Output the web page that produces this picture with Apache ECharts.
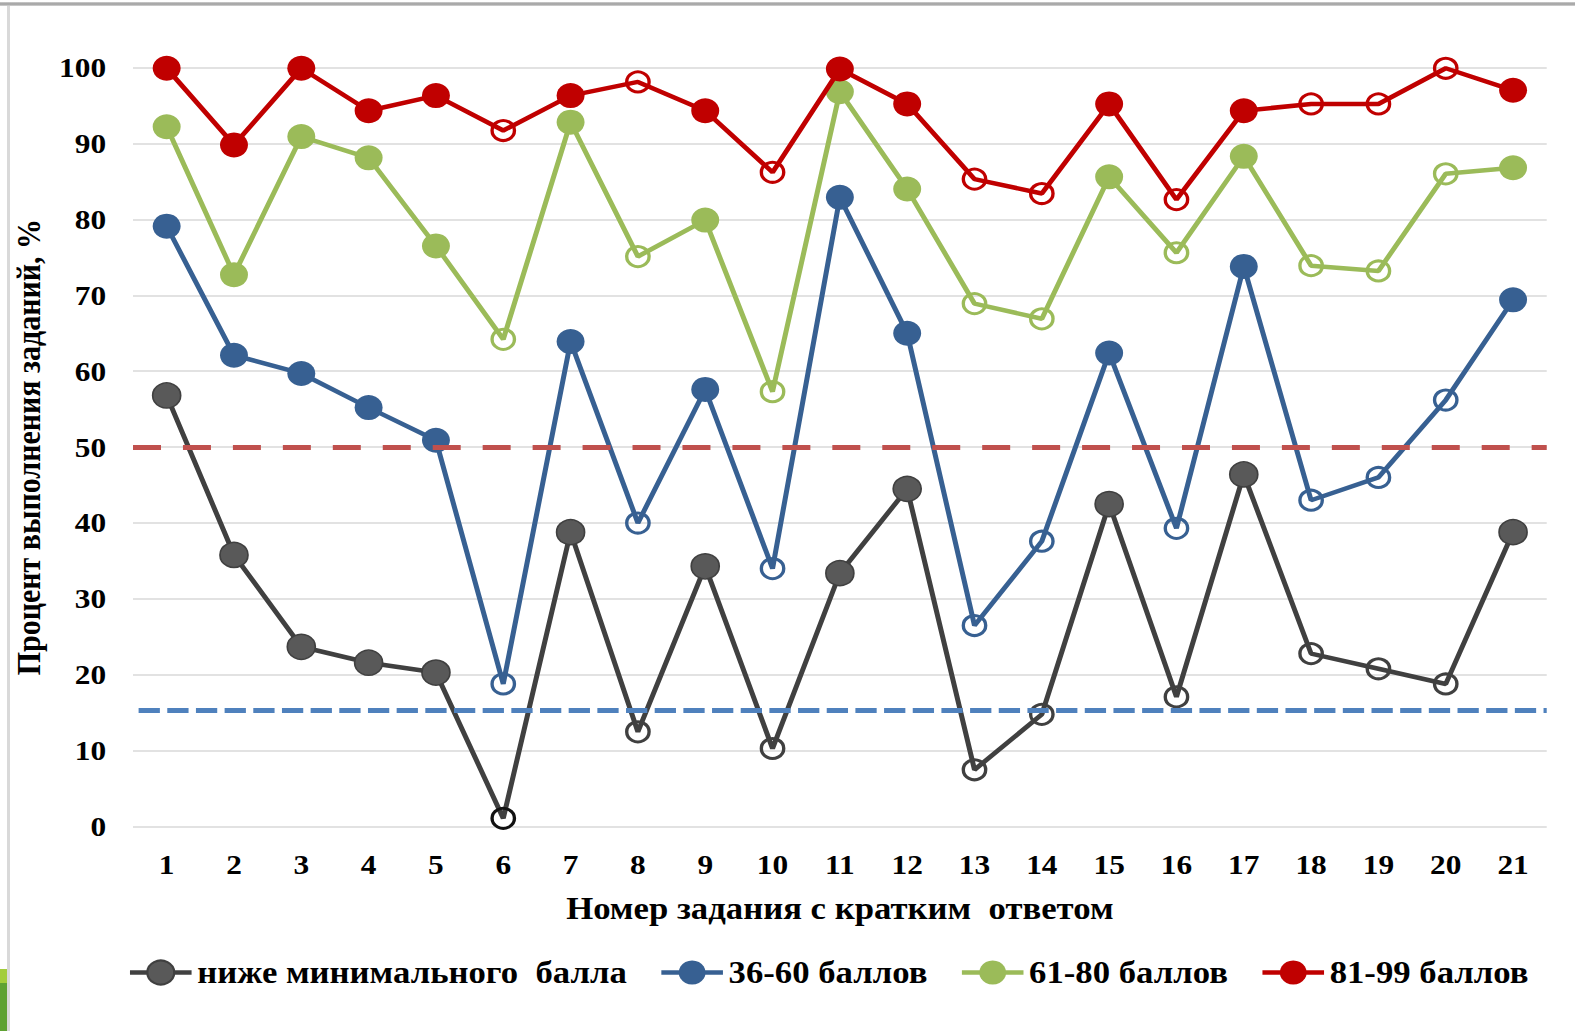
<!DOCTYPE html>
<html>
<head>
<meta charset="utf-8">
<script src="https://cdn.jsdelivr.net/npm/echarts@6/dist/echarts.min.js"></script>
<style>
  html, body { margin: 0; padding: 0; background: #fff; overflow: hidden; }
  #wrap { position: relative; width: 1575px; height: 1031px; overflow: hidden; background: #fff; }
  /* chart is laid out narrower and widened horizontally, giving the wide lettering and oval markers */
  #chart { position: absolute; left: 0; top: 0; width: 1406.25px; height: 1031px;
           transform: scaleX(1.12); transform-origin: 0 0; }
  .frame-top { position: absolute; left: 0; top: 2px; width: 1575px; height: 4px;
               background: linear-gradient(#cfcfcf, #9c9c9c, #d6d6d6); }
  .frame-left { position: absolute; left: 7px; top: 6px; width: 3px; height: 1025px; background: #d9d9d9; }
  .tab-light { position: absolute; left: 0; top: 969px; width: 7px; height: 14px; background: #a3cd3b; }
  .tab-dark { position: absolute; left: 0; top: 983px; width: 7px; height: 48px; background: #5fa233; }
</style>
</head>
<body>
<div id="wrap">
  <div id="chart"></div>
  <div class="frame-top"></div>
  <div class="frame-left"></div>
  <div class="tab-light"></div>
  <div class="tab-dark"></div>
</div>
<script>
// Task numbers (short-answer tasks)
const tasks = ['1','2','3','4','5','6','7','8','9','10','11','12','13','14','15','16','17','18','19','20','21'];

// Percentage of completion by score group
const belowMin   = [56.8, 35.8, 23.7, 21.6, 20.3, 1.1, 38.8, 12.5, 34.3, 10.3, 33.4, 44.5, 7.5, 14.8, 42.5, 17.1, 46.4, 22.8, 20.8, 18.8, 38.8];
const score36_60 = [79.1, 62.1, 59.7, 55.2, 50.9, 18.8, 63.9, 40.0, 57.6, 34.0, 82.9, 65.0, 26.5, 37.6, 62.4, 39.3, 73.8, 43.0, 46.0, 56.2, 69.4];
const score61_80 = [92.2, 72.7, 90.9, 88.1, 76.5, 64.2, 92.8, 75.1, 79.9, 57.3, 96.8, 84.0, 68.9, 66.9, 85.6, 75.6, 88.3, 73.9, 73.2, 86.0, 86.8];
const score81_99 = [99.9, 89.8, 99.9, 94.3, 96.3, 91.7, 96.3, 98.1, 94.3, 86.2, 99.8, 95.2, 85.3, 83.4, 95.2, 82.6, 94.3, 95.2, 95.2, 99.9, 97.0];

// Tasks whose points are drawn as open circles
const openTasks = ['6','8','10','13','14','16','18','19','20'];

// Reference levels
const upperLevel = 50;
const lowerLevel = 15.4;

const seriesNames = ['ниже минимального  балла', '36-60 баллов', '61-80 баллов', '81-99 баллов'];
const lineColors  = ['#404040', '#376092', '#9bbb59', '#c00000'];
const dotColors   = ['#595959', '#376092', '#9bbb59', '#c00000'];

const FONT = "'Liberation Serif', 'Times New Roman', serif";

function buildPoints(values, k) {
  return values.map(function (v, i) {
    if (openTasks.indexOf(tasks[i]) >= 0) {
      return {
        value: v,
        symbolSize: 20,
        itemStyle: { color: 'rgba(255,255,255,0)', borderColor: i === 5 && k === 0 ? '#111' : lineColors[k], borderWidth: 3 }
      };
    }
    return v;
  });
}

const groups = [belowMin, score36_60, score61_80, score81_99];

const series = groups.map(function (vals, k) {
  return {
    name: seriesNames[k],
    type: 'line',
    data: buildPoints(vals, k),
    symbol: 'circle',
    symbolSize: 25,
    showAllSymbol: true,
    lineStyle: { color: lineColors[k], width: 4.5 },
    itemStyle: { color: dotColors[k], borderColor: lineColors[k], borderWidth: k === 0 ? 1.5 : 0 },
    z: 2 + k
  };
});

// dashed reference lines drawn on top of the series
series.push({
  name: 'levels',
  type: 'line',
  data: [],
  z: 10,
  silent: true,
  markLine: {
    silent: true,
    symbol: 'none',
    label: { show: false },
    emphasis: { disabled: true },
    data: [
      { yAxis: upperLevel, lineStyle: { color: '#c0504d', width: 5, type: [25, 19.6] } },
      { yAxis: lowerLevel, lineStyle: { color: '#4f81bd', width: 5, type: [19, 6.6], dashOffset: -5 } }
    ]
  }
});

const chart = echarts.init(document.getElementById('chart'), null, { renderer: 'svg' });

chart.setOption({
  animation: false,
  backgroundColor: 'transparent',
  grid: { left: 118.75, right: 25, top: 67.5, bottom: 204.3, containLabel: false },
  legend: {
    data: seriesNames,
    left: 108.8,
    top: 952,
    itemWidth: 55,
    itemHeight: 30,
    itemGap: 28.5,
    lineStyle: { width: 4.5 },
    textStyle: { fontFamily: FONT, fontWeight: 'bold', fontSize: 31, color: '#000' }
  },
  xAxis: {
    type: 'category',
    data: tasks,
    boundaryGap: true,
    name: 'Номер задания с кратким  ответом',
    nameLocation: 'middle',
    nameGap: 66,
    nameTextStyle: { fontFamily: FONT, fontWeight: 'bold', fontSize: 31, color: '#000' },
    axisLine: { show: false },
    axisTick: { show: false },
    axisLabel: { margin: 24, fontFamily: FONT, fontWeight: 'bold', fontSize: 28, color: '#000' }
  },
  yAxis: {
    type: 'value',
    min: 0,
    max: 100,
    interval: 10,
    name: 'Процент выполнения заданий, %',
    nameLocation: 'middle',
    nameGap: 78,
    nameTextStyle: { fontFamily: FONT, fontWeight: 'bold', fontSize: 30, color: '#000' },
    axisLine: { show: false },
    axisTick: { show: false },
    axisLabel: { margin: 24, fontFamily: FONT, fontWeight: 'bold', fontSize: 28, color: '#000' },
    splitLine: { lineStyle: { color: '#d9d9d9', width: 1.5 } }
  },
  series: series
});
</script>
</body>
</html>
